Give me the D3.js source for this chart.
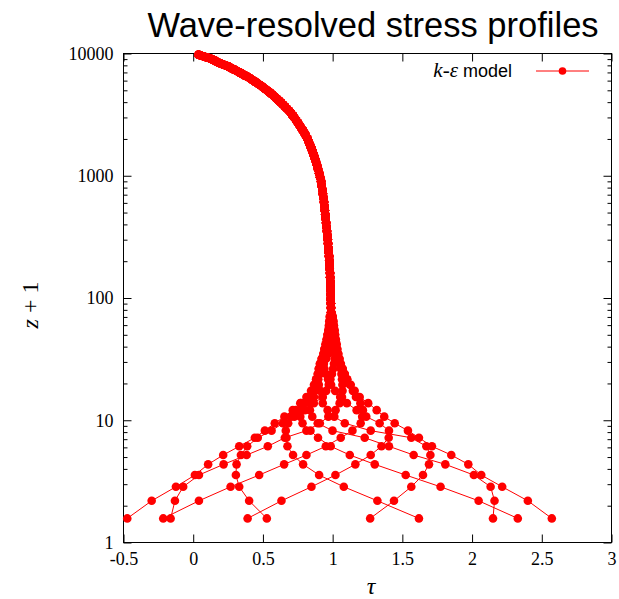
<!DOCTYPE html>
<html>
<head>
<meta charset="utf-8">
<script src="https://cdn.jsdelivr.net/npm/d3@7"></script>
<style>
  body { margin: 0; background: #fff; }
  svg { display: block; }
  .serif { font-family: 'Liberation Serif', 'Times New Roman', 'DejaVu Serif', serif; }
  .sans { font-family: 'Liberation Sans', Arial, sans-serif; }
</style>
</head>
<body>
<div id="chart"></div>
<script>
// lower grid levels (z+1) where the wave phases differ
const zLevels = [1.574, 2.193, 2.856, 3.562, 4.357, 5.194, 6.12, 7.19, 8.22, 9.45,
  10.7, 12.1, 13.8, 15.5, 17.4, 19.5, 21.6, 23.87, 26.32, 28.97,
  31.83, 34.92, 38.26, 41.86, 45.75, 49.95, 54.49, 59.39, 64.68, 70.40];

// one array per wave phase on those levels
const phaseA = [-0.473, -0.298, -0.124, 0.012, 0.107, 0.215, 0.330, 0.442, 0.514, 0.585,
  0.654, 0.714, 0.768, 0.812, 0.845, 0.866, 0.881, 0.893, 0.900, 0.909,
  0.921, 0.933, 0.940, 0.949, 0.957, 0.963, 0.969, 0.973, 0.976, 0.979];
const phaseB = [-0.162, -0.131, -0.072, 0.041, 0.218, 0.383, 0.535, 0.657, 0.812, 0.908,
  0.969, 1.021, 1.050, 1.067, 1.071, 1.070, 1.067, 1.063, 1.059, 1.053,
  1.047, 1.040, 1.033, 1.028, 1.022, 1.016, 1.010, 1.005, 1.000, 0.995];
const phaseC = [-0.215, 0.041, 0.268, 0.473, 0.652, 0.812, 0.951, 1.058, 1.142, 1.201,
  1.212, 1.217, 1.199, 1.167, 1.145, 1.124, 1.103, 1.087, 1.072, 1.056,
  1.044, 1.032, 1.022, 1.015, 1.008, 1.003, 0.998, 0.994, 0.991, 0.988];
const phaseD = [0.390, 0.633, 0.848, 1.020, 1.163, 1.273, 1.350, 1.402, 1.404, 1.337,
  1.241, 1.172, 1.102, 1.054, 1.018, 0.989, 0.967, 0.952, 0.941, 0.935,
  0.935, 0.940, 0.943, 0.950, 0.957, 0.963, 0.970, 0.975, 0.979, 0.981];
const phaseE = [0.528, 0.401, 0.330, 0.306, 0.311, 0.342, 0.387, 0.463, 0.562, 0.643,
  0.725, 0.801, 0.865, 0.929, 0.954, 0.972, 0.984, 0.995, 1.003, 1.009,
  1.014, 1.017, 1.018, 1.019, 1.018, 1.016, 1.013, 1.009, 1.005, 1.000];
const phaseF = [1.269, 1.440, 1.564, 1.648, 1.691, 1.701, 1.672, 1.564, 1.273, 1.087,
  1.012, 0.964, 0.929, 0.926, 0.912, 0.901, 0.897, 0.899, 0.902, 0.909,
  0.922, 0.936, 0.946, 0.958, 0.969, 0.977, 0.984, 0.988, 0.991, 0.991];
const phaseG = [1.619, 1.321, 1.080, 0.903, 0.788, 0.716, 0.676, 0.669, 0.664, 0.681,
  0.700, 0.735, 0.773, 0.836, 0.859, 0.876, 0.893, 0.909, 0.923, 0.937,
  0.953, 0.967, 0.977, 0.987, 0.993, 0.998, 1.000, 1.001, 1.000, 0.998];
const phaseH = [2.150, 2.161, 2.133, 2.013, 1.808, 1.581, 1.404, 1.230, 0.999, 0.893,
  0.854, 0.837, 0.836, 0.866, 0.871, 0.876, 0.883, 0.894, 0.904, 0.917,
  0.933, 0.949, 0.960, 0.972, 0.982, 0.989, 0.994, 0.996, 0.997, 0.996];
const phaseI = [2.328, 2.047, 1.774, 1.524, 1.302, 1.123, 0.986, 0.895, 0.841, 0.784,
  0.768, 0.774, 0.795, 0.843, 0.859, 0.872, 0.886, 0.901, 0.914, 0.929,
  0.946, 0.962, 0.973, 0.984, 0.992, 0.997, 1.000, 1.001, 1.000, 0.998];
const phaseJ = [2.572, 2.400, 2.216, 2.066, 1.973, 1.851, 1.712, 1.619, 1.540, 1.445,
  1.370, 1.316, 1.255, 1.194, 1.158, 1.130, 1.105, 1.087, 1.072, 1.059,
  1.050, 1.040, 1.033, 1.028, 1.023, 1.018, 1.014, 1.009, 1.005, 1.000];

// upper part where all phases coincide
const zUpper = [76.57, 83.24, 90.44, 98.22, 106.6, 115.7, 125.5, 136.1, 147.5, 159.8,
  173.2, 187.6, 203.1, 219.9, 238.1, 257.6, 278.8, 301.7, 326.3, 353.0,
  381.8, 412.9, 446.4, 482.7, 521.8, 564.1, 609.8, 659.1, 712.4, 770.0,
  832.1, 899.2, 971.7, 1050, 1135,
  1188, 1255, 1326, 1400, 1478, 1558, 1643, 1731, 1825, 1924,
  2029, 2134, 2242, 2353, 2473, 2596, 2722, 2848, 2979, 3116,
  3262, 3400, 3537, 3679, 3826, 3981, 4139, 4293, 4467, 4638,
  4806, 4982, 5153, 5341, 5525, 5705, 5885, 6071, 6268, 6448,
  6621, 6809, 7005, 7193, 7384, 7582, 7770, 7932, 8098, 8283,
  8480, 8699, 8922, 9145, 9291, 9452, 9595, 9759];
const tauUpper = [0.989, 0.988, 0.987, 0.986, 0.986, 0.985, 0.984, 0.984, 0.982, 0.981,
  0.979, 0.978, 0.976, 0.974, 0.971, 0.969, 0.967, 0.965, 0.962, 0.959,
  0.956, 0.953, 0.950, 0.947, 0.944, 0.941, 0.938, 0.935, 0.930, 0.926,
  0.921, 0.917, 0.910, 0.903, 0.895,
  0.891, 0.885, 0.879, 0.872, 0.865, 0.858, 0.851, 0.842, 0.834, 0.826,
  0.818, 0.808, 0.797, 0.785, 0.774, 0.762, 0.750, 0.738, 0.726, 0.713,
  0.701, 0.688, 0.673, 0.658, 0.643, 0.628, 0.612, 0.596, 0.580, 0.564,
  0.548, 0.531, 0.514, 0.496, 0.479, 0.461, 0.443, 0.425, 0.407, 0.389,
  0.370, 0.351, 0.332, 0.313, 0.294, 0.275, 0.257, 0.237, 0.217, 0.197,
  0.177, 0.158, 0.138, 0.119, 0.098, 0.077, 0.057, 0.038];

const phases = [phaseA, phaseB, phaseC, phaseD, phaseE, phaseF, phaseG, phaseH, phaseI, phaseJ];

const xTicks = [-0.5, 0, 0.5, 1, 1.5, 2, 2.5, 3];
const xTickLabels = ['-0.5', '0', '0.5', '1', '1.5', '2', '2.5', '3'];
const yTicks = [1, 10, 100, 1000, 10000];
const yTickLabels = ['1', '10', '100', '1000', '10000'];

const width = 619, height = 599;
const plotLeft = 123.5, plotRight = 611.5, plotTop = 53.5, plotBottom = 542.5;
const red = '#ff0000';

const svg = d3.select('#chart').append('svg')
    .attr('width', width)
    .attr('height', height);

const x = d3.scaleLinear().domain([-0.5, 3]).range([plotLeft, plotRight]);
const y = d3.scaleLog().domain([1, 10000]).range([plotBottom, plotTop]);

// axes, gnuplot style: ticks inward and mirrored
const minorY = y.ticks().filter(d => !yTicks.includes(d));

function styleAxis(g) {
    g.attr('font-family', null).attr('font-size', null);
    g.select('.domain').remove();
    g.selectAll('line').attr('stroke', '#000');
    g.selectAll('text')
        .attr('class', 'serif')
        .style('font-size', '18px')
        .attr('fill', '#000');
}

svg.append('g')
    .attr('transform', `translate(0,${plotBottom})`)
    .call(d3.axisBottom(x).tickValues(xTicks).tickFormat((d, i) => xTickLabels[i])
        .tickSizeInner(-8).tickSizeOuter(0).tickPadding(10))
    .call(styleAxis);

svg.append('g')
    .attr('transform', `translate(0,${plotTop})`)
    .call(d3.axisTop(x).tickValues(xTicks).tickFormat('')
        .tickSizeInner(-8).tickSizeOuter(0))
    .call(styleAxis);

svg.append('g')
    .attr('transform', `translate(${plotLeft},0)`)
    .call(d3.axisLeft(y).tickValues(yTicks).tickFormat((d, i) => yTickLabels[i])
        .tickSizeInner(-8).tickSizeOuter(0).tickPadding(10))
    .call(styleAxis);

svg.append('g')
    .attr('transform', `translate(${plotRight},0)`)
    .call(d3.axisRight(y).tickValues(yTicks).tickFormat('')
        .tickSizeInner(-8).tickSizeOuter(0))
    .call(styleAxis);

svg.append('g')
    .attr('transform', `translate(${plotLeft},0)`)
    .call(d3.axisLeft(y).tickValues(minorY).tickFormat('')
        .tickSizeInner(-4).tickSizeOuter(0))
    .call(styleAxis);

svg.append('g')
    .attr('transform', `translate(${plotRight},0)`)
    .call(d3.axisRight(y).tickValues(minorY).tickFormat('')
        .tickSizeInner(-4).tickSizeOuter(0))
    .call(styleAxis);

svg.append('rect')
    .attr('x', plotLeft).attr('y', plotTop)
    .attr('width', plotRight - plotLeft).attr('height', plotBottom - plotTop)
    .attr('fill', 'none').attr('stroke', '#000').attr('stroke-width', 1);

// profiles
const line = d3.line().x(d => x(d.tau)).y(d => y(d.z));
const upperPts = tauUpper.map((tau, i) => ({ tau: tau, z: zUpper[i] }));

phases.forEach(lower => {
    const pts = lower.map((tau, i) => ({ tau: tau, z: zLevels[i] })).concat(upperPts);
    const g = svg.append('g');
    g.append('path')
        .datum(pts)
        .attr('d', line)
        .attr('fill', 'none')
        .attr('stroke', red)
        .attr('stroke-width', 1);
    g.selectAll('circle')
        .data(pts)
        .enter().append('circle')
        .attr('cx', d => x(d.tau))
        .attr('cy', d => y(d.z))
        .attr('r', 4.3)
        .attr('fill', red);
});

// legend
const legendText = svg.append('text')
    .attr('x', 512).attr('y', 77)
    .attr('text-anchor', 'end');
legendText.append('tspan').attr('class', 'serif').style('font-size', '21px').style('font-style', 'italic').text('k');
legendText.append('tspan').attr('class', 'serif').style('font-size', '21px').text('-');
legendText.append('tspan').attr('class', 'serif').style('font-size', '21px').style('font-style', 'italic').text('ε');
legendText.append('tspan').attr('class', 'sans').style('font-size', '18px').text(' model');

svg.append('line')
    .attr('x1', 536).attr('x2', 589).attr('y1', 71).attr('y2', 71)
    .attr('stroke', red).attr('stroke-width', 1);
svg.append('circle')
    .attr('cx', 562.5).attr('cy', 71).attr('r', 3.8).attr('fill', red);

// titles
svg.append('text')
    .attr('x', 373).attr('y', 37)
    .attr('text-anchor', 'middle')
    .attr('class', 'sans')
    .style('font-size', '34.5px')
    .text('Wave-resolved stress profiles');

svg.append('text')
    .attr('x', 371).attr('y', 594)
    .attr('text-anchor', 'middle')
    .attr('class', 'serif')
    .style('font-style', 'italic')
    .style('font-size', '24px')
    .text('τ');

const yLabel = svg.append('text')
    .attr('transform', 'translate(38,305) rotate(-90)')
    .attr('text-anchor', 'middle')
    .attr('class', 'serif')
    .style('font-size', '24px');
yLabel.append('tspan').style('font-style', 'italic').text('z');
yLabel.append('tspan').text(' + 1');
</script>
</body>
</html>
